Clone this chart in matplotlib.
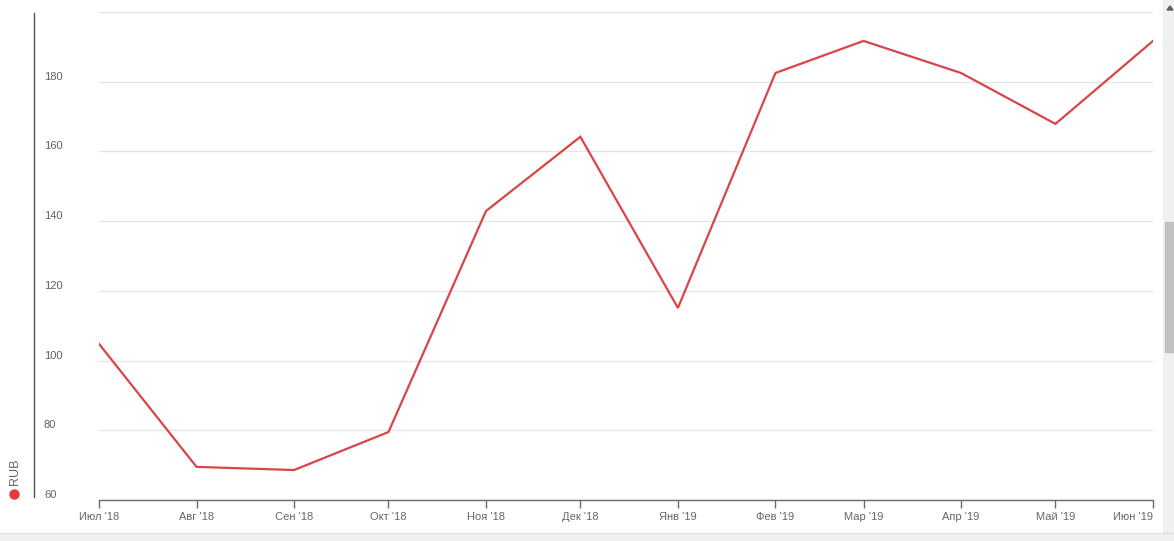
import datetime as dt
import matplotlib
matplotlib.use("Agg")
import matplotlib.pyplot as plt
import matplotlib.transforms as mtransforms
from matplotlib.patches import Rectangle, Polygon
from matplotlib.lines import Line2D

# data
months = [dt.date(2018, m, 1) for m in range(7, 13)] + [dt.date(2019, m, 1) for m in range(1, 7)]
month_labels = ["Июл '18", "Авг '18", "Сен '18", "Окт '18", "Ноя '18", "Дек '18",
                "Янв '19", "Фев '19", "Мар '19", "Апр '19", "Май '19", "Июн '19"]
rub = [104.8, 69.5, 68.6, 79.5, 142.9, 164.2, 115.1, 182.5, 191.7, 182.5, 167.9, 191.7]
y_ticks = [60, 80, 100, 120, 140, 160, 180, 200]

plt.rcParams['font.family'] = ['Liberation Sans', 'DejaVu Sans']

W, H = 1174, 541
fig = plt.figure(figsize=(W / 100, H / 100), dpi=100)
fig.patch.set_facecolor("white")

ax = fig.add_axes([99 / W, 1 - 500 / H, (1153 - 99) / W, (500 - 12) / H])
ax.plot(months, rub, color="#d94448", lw=1.6, solid_joinstyle="miter", zorder=3)
ax.set_xlim(months[0], months[-1])
ax.set_ylim(60, 200)

for s in ["top", "right", "left"]:
    ax.spines[s].set_visible(False)
ax.spines["bottom"].set_color("#6b6b6b")
ax.spines["bottom"].set_linewidth(1)

ax.set_yticks(y_ticks)
ax.yaxis.grid(True, color="#e6e6e6", lw=1)
ax.tick_params(axis="y", length=0, labelleft=False)
ax.set_axisbelow(True)

ax.set_xticks(months)
ax.set_xticklabels(month_labels)
ax.tick_params(axis="x", direction="out", length=6, width=1, color="#6b6b6b",
               labelsize=8, labelcolor="#666666", pad=3)
ax.get_xticklabels()[-1].set_horizontalalignment("right")

# y labels sit to the left, just above each grid line
trans = mtransforms.blended_transform_factory(fig.transFigure, ax.transData)
for v in y_ticks[:-1]:
    ax.text(44 / W, v, str(v), transform=trans, ha="left", va="bottom",
            fontsize=8, color="#606060")

# vertical axis line at far left
fig.add_artist(Line2D([33.5 / W, 33.5 / W], [1 - 13 / H, 1 - 497 / H], color="#555555", lw=1))

# legend: red dot + rotated RUB
fig.add_artist(Line2D([14 / W], [1 - 494 / H], marker="o", markersize=6.5,
                      color="#e8383d", linestyle="none"))
fig.text(15 / W, 1 - 472 / H, "RUB", rotation=90, ha="center", va="center",
         fontsize=9, color="#666666")

# page chrome: bottom band and right scrollbar
fig.add_artist(Rectangle((0, 0), 1, 8 / H, color="#f0f0f0", transform=fig.transFigure))
fig.add_artist(Line2D([0, 1], [8 / H, 8 / H], color="#e2e2e2", lw=1))
fig.add_artist(Rectangle((1163 / W, 0), 11 / W, 1, color="#f0f0f0", transform=fig.transFigure))
fig.add_artist(Rectangle((1165 / W, 1 - 352 / H), 9 / W, 130 / H, color="#c1c1c1",
                         transform=fig.transFigure))
fig.add_artist(Polygon([(1167 / W, 1 - 10 / H), (1173 / W, 1 - 10 / H), (1170 / W, 1 - 6 / H)],
                       color="#606060", transform=fig.transFigure))

fig.savefig("out.png", dpi=100)
